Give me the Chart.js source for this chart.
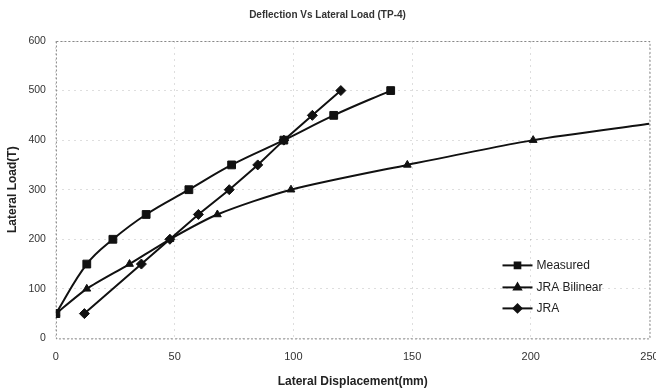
<!DOCTYPE html>
<html>
<head>
<meta charset="utf-8">
<script src="https://cdn.jsdelivr.net/npm/chart.js@4/dist/chart.umd.min.js"></script>
<style>
    html, body { margin: 0; padding: 0; background: #fff; }
    #wrap { width: 656px; height: 391px; }
</style>
</head>
<body>
<div id="wrap"><canvas id="myChart" width="656" height="391"></canvas></div>
<script>
// values
const measuredX = [0, 13, 24, 38, 56, 74, 96, 117, 141];
const measuredY = [50, 150, 200, 250, 300, 350, 400, 450, 500];
const bilinearX = [0, 13, 31, 48, 68, 99, 148, 201, 250];
const bilinearY = [50, 100, 150, 200, 250, 300, 350, 400, 433];
const jraX = [12, 36, 48, 60, 73, 85, 96, 108, 120];
const jraY = [50, 150, 200, 250, 300, 350, 400, 450, 500];
const xTicks = [0, 50, 100, 150, 200, 250];
const yTicks = [0, 100, 200, 300, 400, 500, 600];

const toPoints = (xs, ys) => xs.map((x, i) => ({ x: x, y: ys[i] }));
const fontFamily = '"Liberation Sans", Arial, sans-serif';

// legend drawn inside the plot, bottom right, line + marker like Excel
const insideLegend = {
    id: 'insideLegend',
    afterDraw(chart) {
        const ctx = chart.ctx;
        const a = chart.chartArea;
        const left = a.right - 147;
        const rows = [a.bottom - 73, a.bottom - 51, a.bottom - 30];
        ctx.save();
        chart.data.datasets.forEach((ds, i) => {
            const y = rows[i];
            ctx.strokeStyle = '#111';
            ctx.fillStyle = '#111';
            ctx.lineWidth = 2;
            ctx.beginPath();
            ctx.moveTo(left, y);
            ctx.lineTo(left + 30, y);
            ctx.stroke();
            Chart.helpers.drawPoint(ctx, {
                pointStyle: ds.pointStyle,
                radius: 4,
                rotation: 0,
                borderWidth: 1
            }, left + 15, y);
            ctx.font = '12px ' + fontFamily;
            ctx.fillStyle = '#222';
            ctx.textBaseline = 'middle';
            ctx.textAlign = 'left';
            ctx.fillText(ds.label, left + 34, y);
        });
        ctx.restore();
    }
};

// dotted frame round the plot area
const plotFrame = {
    id: 'plotFrame',
    beforeDatasetsDraw(chart) {
        const ctx = chart.ctx;
        const a = chart.chartArea;
        ctx.save();
        ctx.strokeStyle = '#888';
        ctx.lineWidth = 1;
        ctx.setLineDash([2, 2]);
        ctx.strokeRect(a.left + 0.5, a.top + 0.5, a.right - a.left, a.bottom - a.top);
        ctx.restore();
    }
};

function loadChart() {
    const ctx = document.getElementById('myChart');

    const lineStyle = {
        borderColor: '#111',
        backgroundColor: '#111',
        borderWidth: 2,
        pointBorderColor: '#111',
        pointBackgroundColor: '#111',
        pointBorderWidth: 1,
        showLine: true,
        fill: false
    };

    const data = {
        datasets: [{
            ...lineStyle,
            label: 'Measured',
            data: toPoints(measuredX, measuredY),
            pointStyle: 'rect',
            pointRadius: measuredX.map(() => 5.5),
            tension: 0.4
        }, {
            ...lineStyle,
            label: 'JRA Bilinear',
            data: toPoints(bilinearX, bilinearY),
            pointStyle: 'triangle',
            pointRadius: bilinearX.map((x, i) => i === bilinearX.length - 1 ? 0 : 4.5),
            tension: 0.25
        }, {
            ...lineStyle,
            label: 'JRA',
            data: toPoints(jraX, jraY),
            pointStyle: 'rectRot',
            pointRadius: jraX.map(() => 5),
            tension: 0
        }]
    };

    const myChart = new Chart(ctx, {
        type: 'scatter',
        data: data,
        options: {
            responsive: false,
            animation: false,
            devicePixelRatio: 1,
            layout: {
                padding: { top: 0, right: 6, bottom: 2, left: 5 }
            },
            plugins: {
                legend: { display: false },
                tooltip: { enabled: false },
                title: {
                    display: true,
                    text: 'Deflection Vs Lateral Load (TP-4)',
                    color: '#333',
                    font: { family: fontFamily, size: 10, weight: 'bold' },
                    padding: { top: 9, bottom: 20 }
                }
            },
            scales: {
                x: {
                    type: 'linear',
                    min: xTicks[0],
                    max: xTicks[xTicks.length - 1],
                    afterBuildTicks: (scale) => { scale.ticks = xTicks.map(v => ({ value: v })); },
                    afterFit: (scale) => { scale.paddingRight = 0; },
                    grid: {
                        color: 'rgba(0,0,0,0.13)',
                        tickColor: 'rgba(0,0,0,0)',
                        drawTicks: true,
                        tickLength: 12,
                        lineWidth: 1
                    },
                    border: { display: false, dash: [2, 4] },
                    ticks: {
                        color: '#333',
                        font: { family: fontFamily, size: 11 },
                        padding: 0,
                        maxRotation: 0
                    },
                    title: {
                        display: true,
                        text: 'Lateral Displacement(mm)',
                        color: '#222',
                        font: { family: fontFamily, size: 12, weight: 'bold' },
                        padding: { top: 11, bottom: 0 }
                    }
                },
                y: {
                    type: 'linear',
                    min: yTicks[0],
                    max: yTicks[yTicks.length - 1],
                    afterBuildTicks: (scale) => { scale.ticks = yTicks.map(v => ({ value: v })); },
                    grid: {
                        color: 'rgba(0,0,0,0.13)',
                        tickColor: 'rgba(0,0,0,0)',
                        drawTicks: true,
                        tickLength: 10,
                        lineWidth: 1
                    },
                    border: { display: false, dash: [2, 4] },
                    ticks: {
                        color: '#333',
                        font: { family: fontFamily, size: 10.5 },
                        padding: 0
                    },
                    title: {
                        display: true,
                        text: 'Lateral Load(T)',
                        color: '#222',
                        font: { family: fontFamily, size: 12, weight: 'bold' },
                        padding: { top: 0, bottom: 9 }
                    }
                }
            }
        },
        plugins: [plotFrame, insideLegend]
    });
}

loadChart();
</script>
</body>
</html>
